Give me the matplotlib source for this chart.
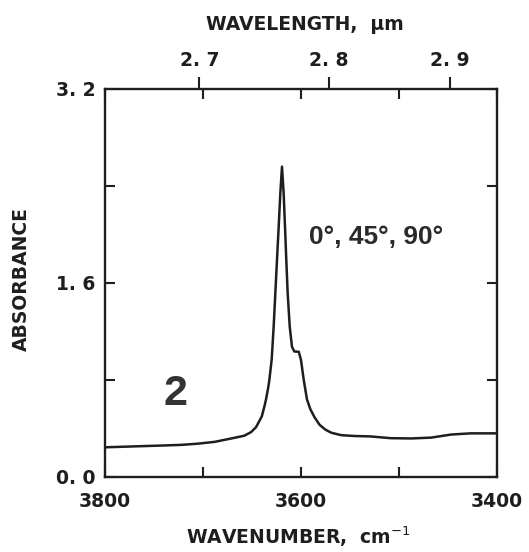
import matplotlib
matplotlib.use("Agg")
import matplotlib.pyplot as plt
import numpy as np

# Data
wavenumber = [3800, 3780, 3760, 3740, 3722, 3705, 3688, 3671, 3664, 3658, 3651,
              3646, 3642.6, 3640, 3637.4, 3635.7, 3633.4, 3632.3, 3629.9, 3627.9,
              3626.2, 3624.5, 3622.8, 3621.1, 3619.4, 3617.7, 3616.3, 3615.0,
              3613.6, 3611.5, 3609.2, 3606.8, 3602.3, 3600, 3597.2, 3593.9,
              3590.5, 3586, 3581, 3575, 3569, 3559, 3545, 3530, 3508, 3487, 3467,
              3447, 3427, 3400]
absorbance = [0.245, 0.25, 0.255, 0.26, 0.265, 0.275, 0.29, 0.318, 0.33, 0.34, 0.37,
              0.41, 0.46, 0.50, 0.58, 0.64, 0.74, 0.80, 0.97, 1.24,
              1.515, 1.79, 2.06, 2.34, 2.56, 2.34, 2.06, 1.79,
              1.515, 1.24, 1.074, 1.035, 1.033, 0.965, 0.80, 0.64,
              0.56, 0.49, 0.43, 0.39, 0.365, 0.345, 0.338, 0.335, 0.32, 0.318, 0.325,
              0.35, 0.36, 0.36]

y_ticks = [0.0, 0.8, 1.6, 2.4, 3.2]
y_tick_labels = ["0. 0", "", "1. 6", "", "3. 2"]
x_ticks = [3800, 3700, 3600, 3500, 3400]
x_tick_labels = ["3800", "", "3600", "", "3400"]
wl_ticks_um = [2.7, 2.8, 2.9]
wl_tick_labels = ["2. 7", "2. 8", "2. 9"]

W, H = 529, 552
fig = plt.figure(figsize=(W / 100, H / 100), dpi=100)
left, right, top, bottom = 105, 497, 89, 477
ax = fig.add_axes([left / W, 1 - bottom / H, (right - left) / W, (bottom - top) / H])

ink = "#1e1e1e"
tick_font = dict(family="DejaVu Sans", size=13.5, weight="bold")

ax.plot(wavenumber, absorbance, color=ink, lw=1.8, solid_joinstyle="round")
ax.set_xlim(3800, 3400)
ax.set_ylim(0, 3.2)

for s in ax.spines.values():
    s.set_linewidth(1.7)
    s.set_color(ink)

# top wavelength axis
ax2 = ax.twiny()
ax2.set_xlim(ax.get_xlim())
ax2.set_xticks([1e4 / w for w in wl_ticks_um])
ax2.set_xticklabels(wl_tick_labels, **tick_font)
ax2.tick_params(axis="x", which="major", direction="out", length=9, width=1.5,
                color=ink, labelcolor=ink, pad=5)
for s in ax2.spines.values():
    s.set_visible(False)

ax.set_yticks(y_ticks)
ax.set_yticklabels(y_tick_labels, **tick_font)
ax.set_xticks(x_ticks)
ax.set_xticklabels(x_tick_labels, **tick_font)
ax.xaxis.set_ticks_position("both")
ax.yaxis.set_ticks_position("both")
ax.tick_params(axis="both", direction="in", length=7, width=1.5, color=ink,
               labelcolor=ink)
ax.tick_params(axis="x", pad=11, labeltop=False, labelbottom=True)
ax.tick_params(axis="y", pad=7, labelright=False, labelleft=True)

lab_font = dict(family="DejaVu Sans", size=13.5, weight="bold", color=ink)
fig.text(305 / W, 1 - 25 / H, "WAVELENGTH,  μm", ha="center", va="center", **lab_font)
fig.text(298 / W, 1 - 537 / H, "WAVENUMBER,  cm$^{-1}$", ha="center", va="center", **lab_font)
fig.text(21 / W, 1 - 279 / H, "ABSORBANCE", ha="center", va="center", rotation=90, **lab_font)

ax.text(3523, 1.98, "0°, 45°, 90°", ha="center", va="center",
        family="Liberation Sans", weight="bold", size=19, color="#2a2a2a")
ax.text(3728, 0.685, "2", ha="center", va="center",
        family="Liberation Sans", weight="bold", size=31, color="#333333")

fig.savefig("out.png", dpi=100)
